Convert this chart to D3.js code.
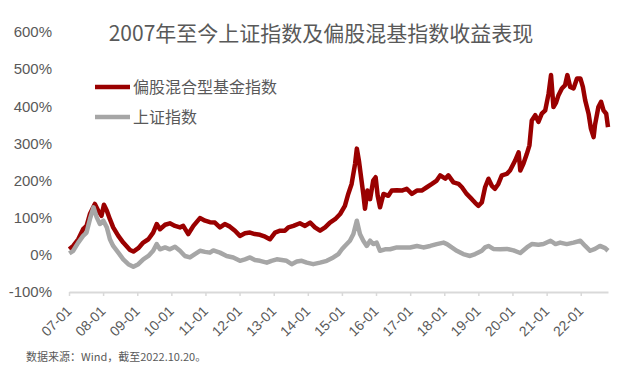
<!DOCTYPE html>
<html>
<head>
<meta charset="utf-8">
<script src="https://cdn.jsdelivr.net/npm/d3@7"></script>
<style>
  body { margin: 0; background: #fff; }
  svg { display: block; font-family: "Noto Sans CJK SC", "Open Sans", sans-serif; }
</style>
</head>
<body>
<svg id="chart" width="640" height="383"></svg>
<script>
// 偏股混合型基金指数 (累计收益 %)
var fundDates = ["2007-01-04","2007-02-15","2007-04-10","2007-06-01","2007-07-08","2007-08-13","2007-10-05","2007-11-10","2007-12-15",
  "2008-01-10","2008-02-10","2008-03-14","2008-04-18","2008-06-12","2008-08-04","2008-10-15","2008-11-20",
  "2009-01-12","2009-03-06","2009-04-30","2009-06-20","2009-07-28","2009-09-01","2009-10-26","2009-12-16",
  "2010-02-09","2010-04-03","2010-05-08","2010-07-01","2010-08-25","2010-11-03","2010-12-28",
  "2011-02-18","2011-04-12","2011-06-05","2011-07-27","2011-09-20","2011-11-13",
  "2012-01-05","2012-02-28","2012-04-22","2012-06-13","2012-08-07","2012-10-01","2012-11-21",
  "2013-01-15","2013-03-10","2013-05-01","2013-06-07","2013-07-31","2013-10-08","2013-12-02",
  "2014-01-26","2014-03-18","2014-05-12","2014-07-05","2014-08-26","2014-10-20","2014-12-13",
  "2015-02-02","2015-03-10","2015-04-15","2015-05-22","2015-06-10","2015-07-02","2015-07-30","2015-08-18","2015-09-05","2015-10-01","2015-10-30","2015-12-02","2015-12-28",
  "2016-01-19","2016-02-13","2016-03-21","2016-05-12","2016-06-17","2016-08-11","2016-10-04","2016-11-25",
  "2017-01-19","2017-03-14","2017-05-04","2017-06-28","2017-08-22","2017-10-12","2017-11-18",
  "2018-01-12","2018-02-14","2018-04-09","2018-06-03","2018-07-09","2018-08-29","2018-10-23","2018-11-28",
  "2019-01-01","2019-02-07","2019-03-14","2019-04-19","2019-05-25","2019-06-28","2019-08-03","2019-09-09","2019-11-02","2019-12-06",
  "2020-01-30","2020-03-07","2020-03-25","2020-04-27","2020-06-03","2020-07-01","2020-07-26","2020-09-01","2020-10-05","2020-11-10","2020-12-17",
  "2021-01-22","2021-02-17","2021-03-15","2021-04-12","2021-05-08","2021-06-13","2021-07-18","2021-08-11","2021-09-10","2021-10-16","2021-11-22","2021-12-28",
  "2022-01-24","2022-02-18","2022-03-26","2022-04-20","2022-05-19","2022-06-03","2022-07-09","2022-08-07","2022-09-02","2022-10-01","2022-10-20"];
var fundValues = [15,24,42,69,78,110,137,119,105,
  135,119,96,74,51,33,13,9,
  18,33,42,60,83,69,81,85,
  78,74,78,56,78,99,92,
  88,87,74,83,76,65,
  51,58,60,56,54,49,42,
  60,65,65,74,78,85,78,
  87,74,65,74,87,96,110,
  132,164,191,245,286,254,200,164,124,173,150,200,209,
  159,128,164,159,173,174,173,178,
  164,173,173,182,191,200,214,
  205,214,195,191,182,164,150,140,
  132,141,182,205,186,178,191,214,218,227,
  254,276,227,245,272,295,362,376,358,380,389,
  434,484,398,410,430,448,457,484,452,448,475,475,
  452,416,380,340,317,350,398,412,389,380,344];

// 上证指数 (累计收益 %)
var indexDates = ["2007-01-04","2007-02-15","2007-04-10","2007-06-01","2007-07-08","2007-08-13","2007-09-20","2007-10-25","2007-11-28",
  "2008-01-04","2008-02-10","2008-03-14","2008-04-18","2008-06-12","2008-08-04","2008-09-27","2008-11-20",
  "2009-01-12","2009-03-06","2009-04-30","2009-06-20","2009-07-28","2009-09-01","2009-10-26","2009-12-16",
  "2010-02-09","2010-04-03","2010-05-26","2010-07-19","2010-09-10","2010-11-03","2010-12-28",
  "2011-02-18","2011-03-26","2011-06-05","2011-08-15","2011-10-26",
  "2012-01-05","2012-02-28","2012-04-22","2012-06-13","2012-08-07","2012-10-19","2012-12-08",
  "2013-02-02","2013-03-28","2013-05-19","2013-07-12","2013-09-05","2013-10-28","2013-12-21",
  "2014-02-28","2014-05-12","2014-07-23","2014-10-01","2014-11-24",
  "2015-01-01","2015-02-02","2015-03-28","2015-05-04","2015-06-10","2015-07-13","2015-08-18","2015-09-24","2015-10-30","2015-12-02",
  "2016-01-08","2016-02-13","2016-04-07","2016-05-30","2016-08-11","2016-10-19",
  "2017-01-01","2017-03-14","2017-05-22","2017-08-03","2017-10-12","2017-12-24",
  "2018-01-30","2018-03-22","2018-05-15","2018-07-23","2018-10-04","2018-11-28",
  "2019-02-07","2019-03-14","2019-04-19","2019-06-10","2019-08-22","2019-11-02",
  "2020-01-12","2020-03-25","2020-06-03","2020-07-26","2020-10-05","2020-11-28",
  "2021-02-12","2021-04-06","2021-05-26","2021-08-04","2021-10-16","2021-12-28",
  "2022-02-18","2022-04-12","2022-06-03","2022-07-26","2022-09-20","2022-10-20"];
var indexValues = [4,11,33,51,60,96,128,101,83,
  92,74,42,24,6,-12,-25,-32,
  -25,-12,-3,11,29,15,20,15,
  22,11,-3,-7,2,11,8,
  6,12,6,-3,-7,
  -16,-12,-7,-14,-16,-21,-16,
  -12,-14,-16,-25,-18,-16,-21,
  -25,-21,-16,-7,2,
  15,24,38,56,92,56,38,24,38,29,
  33,11,15,15,20,20,
  20,24,20,24,29,33,
  29,20,11,2,-3,2,
  11,20,24,16,15,16,
  12,5,20,29,27,29,
  38,29,33,29,33,38,
  24,11,16,24,18,11];

var yTicks = [-100, 0, 100, 200, 300, 400, 500, 600];
var xTickYears = d3.range(2007, 2023);
var seriesNames = ["偏股混合型基金指数", "上证指数"];
var seriesColors = ["#9A0000", "#A6A6A6"];

var parseDate = d3.timeParse("%Y-%m-%d");
var fund = fundDates.map(function(d, i) { return { date: parseDate(d), value: fundValues[i] }; });
var index = indexDates.map(function(d, i) { return { date: parseDate(d), value: indexValues[i] }; });

var svg = d3.select("#chart");
var textColor = "#595959";

var x = d3.scaleTime()
    .domain([new Date(2007, 0, 1), new Date(2022, 9, 20)])
    .range([69, 608]);
var y = d3.scaleLinear()
    .domain([-100, 600])
    .range([292, 32]);

// title
svg.append("text")
    .attr("x", 321).attr("y", 41)
    .attr("text-anchor", "middle")
    .attr("fill", textColor)
    .style("font-size", "21px")
    .text("2007年至今上证指数及偏股混基指数收益表现");

// y axis, labels only
var yAxis = svg.append("g")
    .attr("transform", "translate(56,0)")
    .call(d3.axisLeft(y).tickValues(yTicks).tickSize(0).tickPadding(4).tickFormat(function(d) { return d + "%"; }));
yAxis.select(".domain").remove();
yAxis.selectAll("text").attr("fill", textColor).style("font-size", "15px").style("font-family", "inherit");

// x axis
var xAxis = svg.append("g")
    .attr("transform", "translate(0," + y(-100) + ")")
    .call(d3.axisBottom(x)
        .tickValues(xTickYears.map(function(yr) { return new Date(yr, 0, 1); }))
        .tickSize(4).tickSizeOuter(0)
        .tickFormat(d3.timeFormat("%y-%m")));
xAxis.select(".domain").attr("stroke", "#D9D9D9").attr("stroke-width", 2);
xAxis.selectAll(".tick line").attr("stroke", "#D9D9D9").attr("stroke-width", 1.5);
xAxis.selectAll("text")
    .attr("fill", textColor)
    .style("font-size", "14px")
    .style("font-family", "inherit")
    .attr("text-anchor", "end")
    .attr("x", 0).attr("y", 0)
    .attr("dx", 0).attr("dy", 0)
    .attr("transform", "translate(3,20) rotate(-45)");

var line = d3.line()
    .x(function(d) { return x(d.date); })
    .y(function(d) { return y(d.value); });

svg.append("path")
    .datum(fund)
    .attr("fill", "none")
    .attr("stroke", seriesColors[0])
    .attr("stroke-width", 4.5)
    .attr("stroke-linejoin", "round")
    .attr("d", line);

svg.append("path")
    .datum(index)
    .attr("fill", "none")
    .attr("stroke", seriesColors[1])
    .attr("stroke-width", 4.5)
    .attr("stroke-linejoin", "round")
    .attr("d", line);

// legend
var legend = svg.append("g");
seriesNames.forEach(function(name, i) {
    var ly = 87 + i * 30;
    legend.append("line")
        .attr("x1", 95).attr("x2", 130)
        .attr("y1", ly).attr("y2", ly)
        .attr("stroke", seriesColors[i])
        .attr("stroke-width", 4.5);
    legend.append("text")
        .attr("x", 133).attr("y", ly)
        .attr("dy", "0.35em")
        .attr("fill", textColor)
        .style("font-size", "16px")
        .text(name);
});

// source note
svg.append("text")
    .attr("x", 26).attr("y", 361)
    .attr("fill", textColor)
    .style("font-size", "11px")
    .text("数据来源：Wind，截至2022.10.20。");
</script>
</body>
</html>
